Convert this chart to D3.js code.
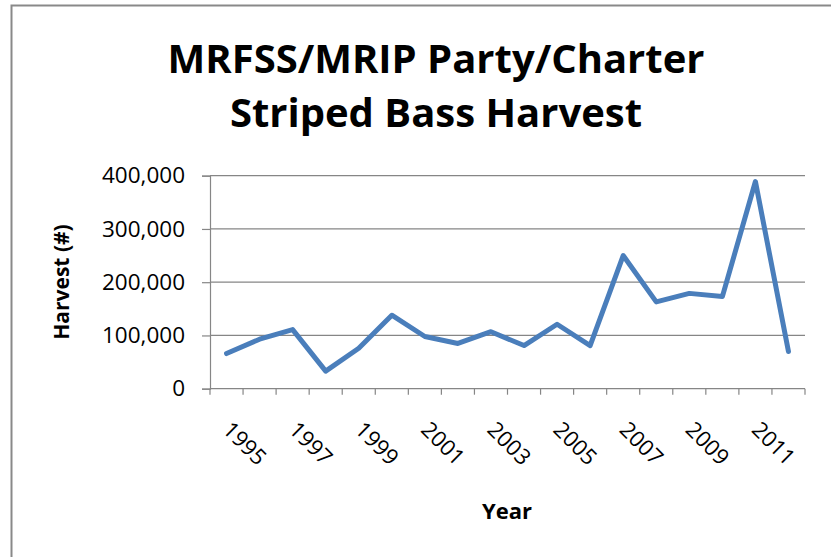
<!DOCTYPE html>
<html>
<head>
<meta charset="utf-8">
<script src="https://cdn.jsdelivr.net/npm/d3@7"></script>
<style>
  html, body { margin: 0; padding: 0; background: #fff; }
  svg { display: block; }
  text { font-family: "Open Sans", "Noto Sans", sans-serif; fill: #000; }
</style>
</head>
<body>
<svg id="chart" width="831" height="557"></svg>
<script>
// ---- data ----
const years = [1995, 1996, 1997, 1998, 1999, 2000, 2001, 2002, 2003, 2004, 2005, 2006, 2007, 2008, 2009, 2010, 2011, 2012];
const harvest = [66000, 93000, 111000, 33000, 76000, 138000, 98000, 85000, 107000, 81000, 121000, 81000, 250000, 163000, 179000, 173000, 389000, 70000];
const yTicks = [0, 100000, 200000, 300000, 400000];
const xTickLabels = ["1995", "1997", "1999", "2001", "2003", "2005", "2007", "2009", "2011"];
const titleLines = ["MRFSS/MRIP Party/Charter", "Striped Bass Harvest"];

const svg = d3.select("#chart");
const plot = { left: 210, right: 805, top: 175.7, bottom: 388.7 };

// frame
svg.append("rect")
  .attr("x", 11.5).attr("y", 5.5)
  .attr("width", 900).attr("height", 700)
  .attr("fill", "none").attr("stroke", "#898989").attr("stroke-width", 2);

const x = d3.scaleBand().domain(years).range([plot.left, plot.right]).padding(0);
const y = d3.scaleLinear().domain([0, 400000]).range([plot.bottom, plot.top]);

// gridlines
svg.append("g").selectAll("line")
  .data(yTicks.filter(d => d > 0))
  .join("line")
  .attr("x1", plot.left).attr("x2", plot.right)
  .attr("y1", d => y(d)).attr("y2", d => y(d))
  .attr("stroke", "#868686").attr("stroke-width", 1.2);

// y axis
const yAxis = d3.axisLeft(y).tickValues(yTicks).tickSize(8).tickPadding(17)
  .tickFormat(d3.format(","));
const gy = svg.append("g").attr("transform", `translate(${plot.left},0)`).call(yAxis);
gy.select(".domain").attr("stroke", "#868686").attr("stroke-width", 1.2);
gy.selectAll(".tick line").attr("stroke", "#868686").attr("stroke-width", 1.2);
gy.selectAll(".tick text").style("font-size", "22.5px").attr("fill", "#000")
  .style("font-family", '"Open Sans", sans-serif');

// x axis: ticks at category boundaries
const boundaries = years.map(d => x(d)).concat([plot.right]);
const gx = svg.append("g");
gx.append("line")
  .attr("x1", plot.left).attr("x2", plot.right)
  .attr("y1", plot.bottom).attr("y2", plot.bottom)
  .attr("stroke", "#868686").attr("stroke-width", 1.2);
gx.selectAll("line.tk").data(boundaries).join("line").attr("class", "tk")
  .attr("x1", d => d).attr("x2", d => d)
  .attr("y1", plot.bottom).attr("y2", plot.bottom + 6)
  .attr("stroke", "#868686").attr("stroke-width", 1.2);

gx.selectAll("text.xl").data(xTickLabels).join("text").attr("class", "xl")
  .attr("transform", d => `translate(${x(+d) + x.bandwidth() / 2 - 5},431) rotate(45)`)
  .attr("text-anchor", "start")
  .style("font-size", "22px")
  .text(d => d);

// line
const line = d3.line()
  .x((d, i) => x(years[i]) + x.bandwidth() / 2)
  .y(d => y(d));
svg.append("path")
  .datum(harvest)
  .attr("d", line)
  .attr("fill", "none")
  .attr("stroke", "#4a7ebb")
  .attr("stroke-width", 5)
  .attr("stroke-linejoin", "round")
  .attr("stroke-linecap", "round");

// title
svg.append("g").selectAll("text").data(titleLines).join("text")
  .attr("x", 436).attr("y", (d, i) => 73 + i * 54)
  .attr("text-anchor", "middle")
  .style("font-size", "40px").style("font-weight", "700")
  .text(d => d);

// axis titles
svg.append("text")
  .attr("transform", "translate(69,282) rotate(-90)")
  .attr("text-anchor", "middle")
  .style("font-size", "21px").style("font-weight", "700")
  .text("Harvest (#)");

svg.append("text")
  .attr("x", 507).attr("y", 519)
  .attr("text-anchor", "middle")
  .style("font-size", "22px").style("font-weight", "700")
  .text("Year");
</script>
</body>
</html>
